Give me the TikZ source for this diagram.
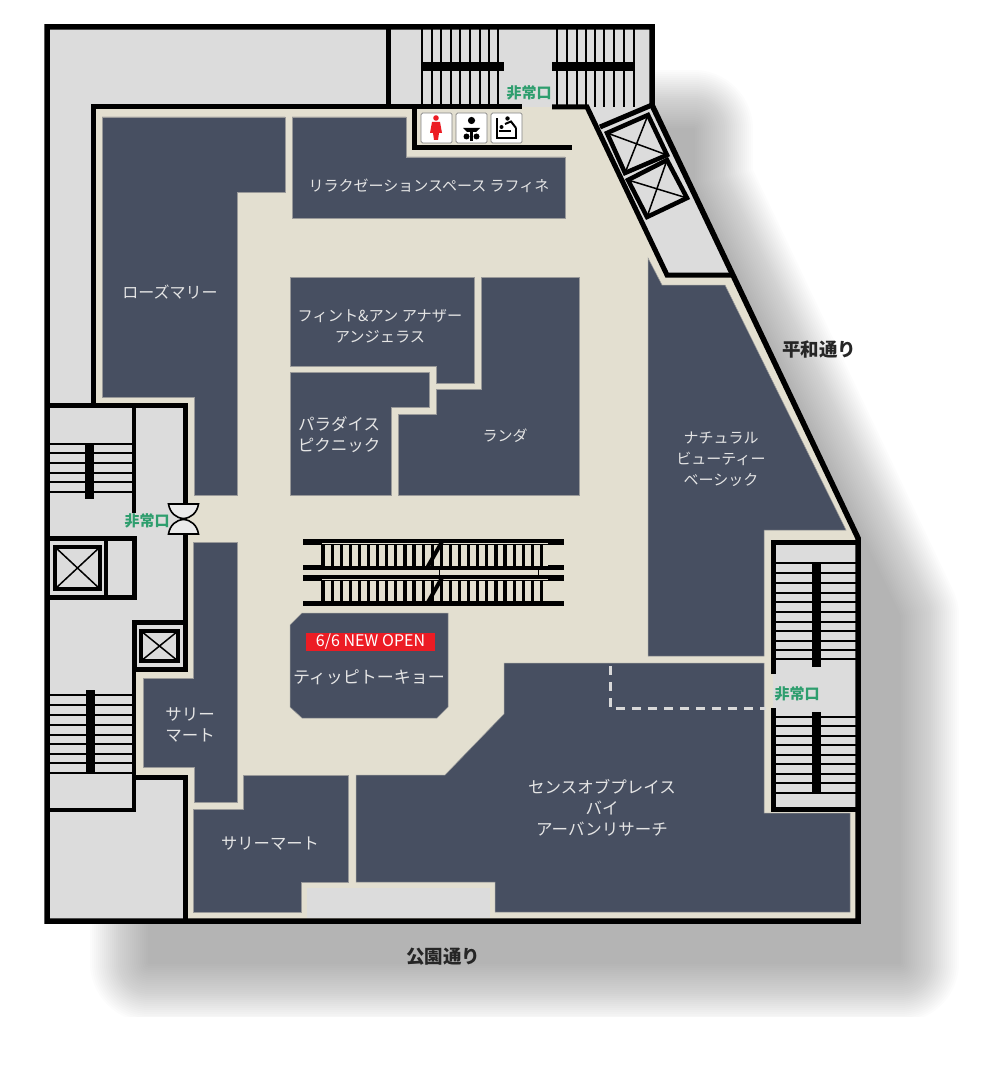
\documentclass[tikz,border=0pt]{standalone}
\usepackage{fontspec}
\setmainfont{Noto Sans CJK JP}
\usepackage{tikz}
\definecolor{floorcream}{HTML}{E3DFD0}
\definecolor{roomgrey}{HTML}{DCDCDC}
\definecolor{shopnavy}{HTML}{474F61}
\definecolor{exitgreen}{HTML}{2E9E6E}
\definecolor{salered}{HTML}{EC1C24}
\tikzset{>=stealth}
\newcommand{\outline}{(47,27) -- (652,27) -- (652,105) -- (858,538) -- (858,921) -- (47,921) -- cycle}
\begin{document}
\begin{tikzpicture}[x=1pt,y=-1pt]
  \tikzset{wall/.style = {line width=5pt,draw=black}}
  \tikzset{tread/.style = {line width=1.6pt,draw=black}}
  \tikzset{shop/.style = {fill=shopnavy,draw=gray!80,line width=.5pt}}
  \tikzset{grey room/.style = {fill=roomgrey}}
  \tikzset{shop name/.style = {text=white!90!black,font=\fontsize{#1}{21}\selectfont,align=center,inner sep=0pt}}
  \tikzset{exit name/.style = {text=exitgreen,font=\fontsize{15}{16}\selectfont\bfseries,inner sep=0pt}}
  \tikzset{street name/.style = {text=black!85,font=\fontsize{18.5}{20}\selectfont\bfseries,inner sep=0pt}}
  \tikzset{lift cross/.style = {line width=1.5pt,draw=black}}
  \tikzset{sign/.style = {fill=white,draw=gray,line width=.7pt,rounded corners=1.5pt}}
  \useasboundingbox (0,0) rectangle (1000,1078);

  % shadow
  \begin{scope}
    \clip (0,0) rectangle (1000,1016);
    \begin{scope}[shift={(72pt,-72pt)}]
      \foreach \w in {2,6,...,118} {
        \begin{scope}[transparency group,opacity=.0108]
          \draw[line width=\w pt,line join=round,black,fill=black] (77,57) -- (622,57) -- (622,111) -- (828,544) -- (828,891) -- (77,891) -- cycle;
        \end{scope}
      }
    \end{scope}
  \end{scope}

  % floor and service areas
  \fill[white] \outline;
  \fill[floorcream] \outline;
  \fill[grey room] (47,27) -- (388,27) -- (388,107) -- (93,107) -- (93,405) -- (47,405) -- cycle;
  \fill[grey room] (388,27) rectangle (652,107);
  \fill[grey room] (587,107) -- (652,105) -- (732,275) -- (667,275) -- cycle;
  \fill[grey room] (47,405) -- (185,405) -- (185,670) -- (134,670) -- (134,777) -- (185,777) -- (185,921) -- (47,921) -- cycle;
  \fill[grey room] (773,542) rectangle (858,809);
  \fill[grey room] (307,888) rectangle (490,918);

  % shops
  \draw[shop] (102,117) -- (285,117) -- (285,192) -- (237,192) -- (237,495) -- (194,495) -- (194,397) -- (102,397) -- cycle;
  \draw[shop] (292,117) -- (406,117) -- (406,157) -- (565,157) -- (565,218) -- (292,218) -- cycle;
  \draw[shop] (290,277) -- (474,277) -- (474,383) -- (436,383) -- (436,366) -- (290,366) -- cycle;
  \draw[shop] (290,372) -- (429,372) -- (429,407) -- (391,407) -- (391,495) -- (290,495) -- cycle;
  \draw[shop] (481,277) -- (579,277) -- (579,495) -- (398,495) -- (398,414) -- (436,414) -- (436,389) -- (481,389) -- cycle;
  \draw[shop] (290,625) -- (302,613) -- (448,613) -- (448,707) -- (437,718) -- (302,718) -- (290,707) -- cycle;
  \draw[shop] (648,258) -- (662,285) -- (725,285) -- (846,530) -- (764,530) -- (764,656) -- (648,656) -- cycle;
  \draw[shop] (504,663) -- (764,663) -- (764,813) -- (850,813) -- (850,912) -- (495,912) -- (495,882) -- (356,882) -- (356,775) -- (445,775) -- (504,714) -- cycle;
  \draw[shop] (193,542) -- (237,542) -- (237,802) -- (194,802) -- (194,767) -- (143,767) -- (143,678) -- (193,678) -- cycle;
  \draw[shop] (243,775) -- (348,775) -- (348,882) -- (301,882) -- (301,912) -- (193,912) -- (193,809) -- (243,809) -- cycle;
  \draw[white!85!black,line width=3pt,dash pattern=on 9pt off 7pt] (610,666) -- (610,708) -- (766,708);

  % stairs
  \foreach \x in {422,432,441,451,460,470,480,489,498,557,567,577,586,595,604,614,624,634} {
    \draw[tread] (\x,27) -- (\x,107);
  }
  \fill (422,62) rectangle (504,71);
  \fill (552,62) rectangle (633,71);
  \foreach \y in {444,453,463,473,482,492,695,705,715,725,735,744,754,763,773} {
    \draw[tread] (47,\y) -- (134,\y);
  }
  \fill (85,444) rectangle (94,499);
  \fill (86,690) rectangle (95,773);
  \foreach \y in {563,573,583,593,602,612,622,631,641,650,659,717,726,736,745,755,764,774,783,793} {
    \draw[tread] (773,\y) -- (858,\y);
  }
  \fill (812,563) rectangle (821,667);
  \fill (812,712) rectangle (821,793);

  % walls
  \draw[wall] (388,27) -- (388,107);
  \draw[wall] (93,405) -- (93,107) -- (522,107);
  \draw[wall] (552,107) -- (587,107) -- (667,275) -- (733,275);
  \draw[wall] (600,127) -- (652,105);
  \draw[wall] (414,107) -- (414,148) -- (572,148);
  \draw[wall] (47,405) -- (185,405) -- (185,505);
  \draw[wall] (185,535) -- (185,671.5);
  \draw[line width=4pt] (134,405) -- (134,513);
  \draw[wall] (47,538) -- (134,538) -- (134,597) -- (47,597);
  \draw[line width=4pt] (106,538) -- (106,597);
  \draw[wall] (185,622) -- (134,622) -- (134,669) -- (185,669);
  \draw[line width=4pt] (134,669) -- (134,810) -- (47,810);
  \draw[wall] (134,777) -- (185,777) -- (185,921);
  \draw[wall] (773,674) -- (773,542) -- (858,542);
  \draw[wall] (773,708) -- (773,809) -- (858,809);
  \draw[line width=5.5pt,line join=miter] \outline;

  % lifts
  \draw[line width=4.5pt] (607,133) -- (648,115) -- (667,155) -- (625,173) -- cycle;
  \draw[lift cross] (607,133) -- (667,155) (648,115) -- (625,173);
  \draw[line width=4.5pt] (628,180) -- (667,160) -- (687,198) -- (647,217) -- cycle;
  \draw[lift cross] (628,180) -- (687,198) (667,160) -- (647,217);
  \draw[line width=4.5pt] (55,547) rectangle (100,589);
  \draw[lift cross] (55,547) -- (100,589) (100,547) -- (55,589);
  \draw[line width=4pt] (141,631) rectangle (178,661);
  \draw[lift cross] (141,631) -- (178,661) (178,631) -- (141,661);

  % door
  \draw[fill=white!92!black,line width=1.6pt] (168.5,504) -- (198.5,504) .. controls (197,513) and (191,518) .. (183.5,518.5) .. controls (176,518) and (170,513) .. (168.5,504) -- cycle;
  \draw[fill=white!92!black,line width=1.6pt] (168.5,534) -- (198.5,534) .. controls (197,525) and (191,520) .. (183.5,519.5) .. controls (176,520) and (170,525) .. (168.5,534) -- cycle;

  % escalators
  \foreach \t in {0,36} {
    \begin{scope}[yshift=-\t pt]
      \fill (303,539) rectangle (564,544.5);
      \fill (303,565) rectangle (564,570);
      \draw[floorcream,line width=.7pt] (322,543.4) -- (548,543.4) (322,565.8) -- (548,565.8);
      \foreach \x in {323,332.1,...,549} {
        \draw[line width=3.2pt] (\x,544) -- (\x,566);
      }
      \draw[line width=4pt] (443,540) -- (427,568);
    \end{scope}
  }
  \fill (303,601) rectangle (564,606);
  \draw[line width=1pt] (439,570) -- (439,575) (538,570) -- (538,575);

  % toilet signs
  \draw[sign] (421,113) rectangle (452,143);
  \draw[sign] (456,113) rectangle (487,143);
  \draw[sign] (491,113) rectangle (522,143);
  \fill[salered] (436,118) circle (2.8pt);
  \fill[salered] (432,122) -- (440,122) -- (442,133) -- (439,133) -- (438,140) -- (434,140) -- (433,133) -- (430,133) -- cycle;
  \fill (471.5,120.5) circle (3.6pt);
  \fill (463,128) -- (480,128) -- (476,132) -- (467,132) -- cycle;
  \fill (466.5,136.5) circle (3pt) (476.5,136.5) circle (3pt);
  \fill (470,131) rectangle (473,141);
  \fill (496,118) rectangle (498,139);
  \fill (498,137) rectangle (517,139);
  \fill (515,128) rectangle (517,139);
  \fill (499,130) rectangle (511,132);
  \fill (507.5,118.5) circle (2.2pt);
  \draw[line width=2pt] (505,124) -- (511,121.5) -- (516,128);
  \fill (501.5,127) circle (2pt);

  % sale banner
  \fill[salered] (306,633) rectangle (435,651);
  \node[inner sep=0pt,text=white,font=\fontsize{16}{18}\selectfont] (sale) at (370.5,642) {6/6 NEW OPEN};

  % names
  \node[shop name=15] (laffine) at (429,186) {リラクゼーションスペース ラフィネ};
  \node[shop name=16] (rosemary) at (170,292) {ローズマリー};
  \node[shop name=15.2] (fint) at (380,326) {フィント\&アン アナザー\\アンジェラス};
  \node[shop name=16.5] (paradise) at (339,435) {パラダイス\\ピクニック};
  \node[shop name=15] (randa) at (505,436) {ランダ};
  \node[shop name=15] (natural) at (721,459) {ナチュラル\\ビューティー\\ベーシック};
  \node[shop name=17] (tippy) at (369,677) {ティッピトーキョー};
  \node[shop name=16.5] (sarry a) at (190,725) {サリー\\マート};
  \node[shop name=16.3] (sarry b) at (270,844) {サリーマート};
  \node[shop name=16.5] (sense) at (602,808) {センスオブプレイス\\バイ\\アーバンリサーチ};
  \node[exit name] (exit a) at (529,93) {非常口};
  \node[exit name] (exit b) at (147,521) {非常口};
  \node[exit name] (exit c) at (797,694) {非常口};
  \node[street name] (heiwa) at (819,350) {平和通り};
  \node[street name] (koen) at (443,957) {公園通り};
\end{tikzpicture}
\end{document}
